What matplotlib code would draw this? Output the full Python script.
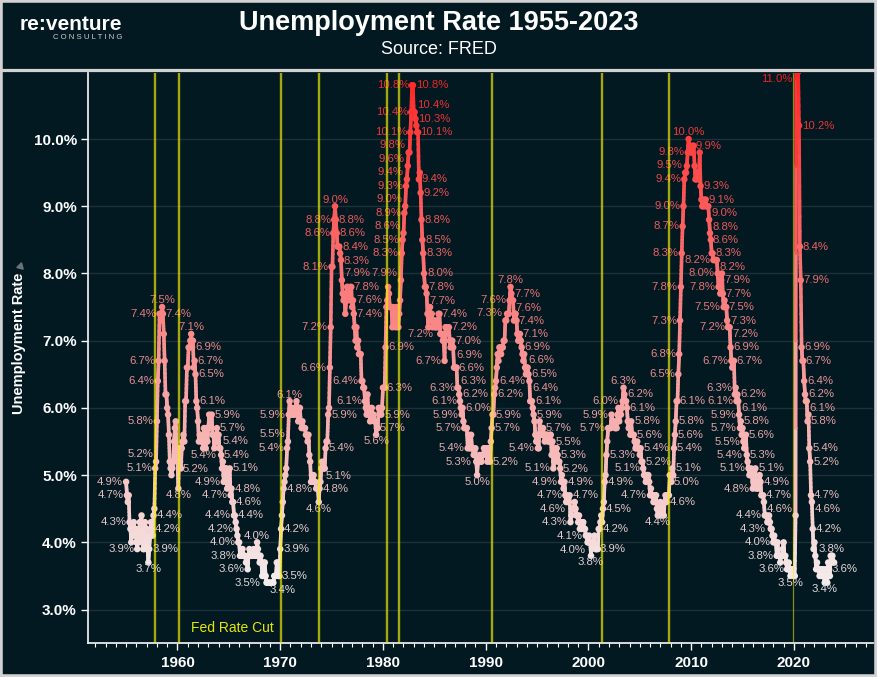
import numpy as np
import pandas as pd
import matplotlib
matplotlib.use('Agg')
import matplotlib.pyplot as plt
from matplotlib.collections import LineCollection
from matplotlib.colors import LinearSegmentedColormap, Normalize
from matplotlib.ticker import MultipleLocator, FuncFormatter
from matplotlib.patches import Rectangle
from matplotlib.lines import Line2D

# monthly unemployment rate (%), Jan..Dec, one row per year
rate_1950s = [
    4.9, 4.7, 4.6, 4.7, 4.3, 4.2, 4.0, 4.2, 4.1, 4.3, 4.2, 4.2,   # 1955
    4.0, 3.9, 4.2, 4.0, 4.3, 4.3, 4.4, 4.1, 3.9, 3.9, 4.3, 4.2,   # 1956
    4.2, 3.9, 3.7, 3.9, 4.1, 4.3, 4.2, 4.1, 4.4, 4.5, 5.1, 5.2,   # 1957
    5.8, 6.4, 6.7, 7.4, 7.4, 7.3, 7.5, 7.4, 7.1, 6.7, 6.2, 6.2,   # 1958
    6.0, 5.9, 5.6, 5.2, 5.1, 5.0, 5.1, 5.2, 5.5, 5.7, 5.8, 5.3,   # 1959
]
rate_1960s = [
    5.2, 4.8, 5.4, 5.2, 5.1, 5.4, 5.5, 5.6, 5.5, 6.1, 6.1, 6.6,
    6.6, 6.9, 6.9, 7.0, 7.1, 6.9, 7.0, 6.6, 6.7, 6.5, 6.1, 6.0,
    5.8, 5.5, 5.6, 5.6, 5.5, 5.5, 5.4, 5.7, 5.6, 5.4, 5.7, 5.5,
    5.7, 5.9, 5.7, 5.7, 5.9, 5.6, 5.6, 5.4, 5.5, 5.5, 5.7, 5.5,
    5.6, 5.4, 5.4, 5.3, 5.1, 5.2, 4.9, 5.0, 5.1, 5.1, 4.8, 5.0,
    4.9, 5.1, 4.7, 4.8, 4.6, 4.6, 4.4, 4.4, 4.3, 4.2, 4.1, 4.0,
    4.0, 3.8, 3.8, 3.8, 3.9, 3.8, 3.8, 3.8, 3.7, 3.7, 3.6, 3.8,
    3.9, 3.8, 3.8, 3.8, 3.8, 3.9, 3.8, 3.8, 3.8, 4.0, 3.9, 3.8,
    3.7, 3.8, 3.7, 3.5, 3.5, 3.7, 3.7, 3.5, 3.4, 3.4, 3.4, 3.4,
    3.4, 3.4, 3.4, 3.4, 3.4, 3.5, 3.5, 3.5, 3.7, 3.7, 3.5, 3.5,
]
rate_1970s = [
    3.9, 4.2, 4.4, 4.6, 4.8, 4.9, 5.0, 5.1, 5.4, 5.5, 5.9, 6.1,
    5.9, 5.9, 6.0, 5.9, 5.9, 5.9, 6.0, 6.1, 6.0, 5.8, 6.0, 6.0,
    5.8, 5.7, 5.8, 5.7, 5.7, 5.7, 5.6, 5.6, 5.5, 5.6, 5.3, 5.2,
    4.9, 5.0, 4.9, 5.0, 4.9, 4.9, 4.8, 4.8, 4.8, 4.6, 4.8, 4.9,
    5.1, 5.2, 5.1, 5.1, 5.1, 5.4, 5.5, 5.5, 5.9, 6.0, 6.6, 7.2,
    8.1, 8.1, 8.6, 8.8, 9.0, 8.8, 8.6, 8.4, 8.4, 8.4, 8.3, 8.2,
    7.9, 7.7, 7.6, 7.7, 7.4, 7.6, 7.8, 7.8, 7.6, 7.7, 7.8, 7.8,
    7.5, 7.6, 7.4, 7.2, 7.0, 7.2, 6.9, 7.0, 6.8, 6.8, 6.8, 6.4,
    6.4, 6.3, 6.3, 6.1, 6.0, 5.9, 6.2, 5.9, 6.0, 5.8, 5.9, 6.0,
    5.9, 5.9, 5.8, 5.8, 5.6, 5.7, 5.7, 6.0, 5.9, 6.0, 5.9, 6.0,
]
rate_1980s = [
    6.3, 6.3, 6.3, 6.9, 7.5, 7.6, 7.8, 7.7, 7.5, 7.5, 7.5, 7.2,
    7.5, 7.4, 7.4, 7.2, 7.5, 7.5, 7.2, 7.4, 7.6, 7.9, 8.3, 8.5,
    8.6, 8.9, 9.0, 9.3, 9.4, 9.6, 9.8, 9.8, 10.1, 10.4, 10.8, 10.8,
    10.4, 10.4, 10.3, 10.2, 10.1, 10.1, 9.4, 9.5, 9.2, 8.8, 8.5, 8.3,
    8.0, 7.8, 7.8, 7.7, 7.4, 7.2, 7.5, 7.5, 7.3, 7.4, 7.2, 7.3,
    7.3, 7.2, 7.2, 7.3, 7.2, 7.4, 7.4, 7.1, 7.1, 7.1, 7.0, 7.0,
    6.7, 7.2, 7.2, 7.1, 7.2, 7.2, 7.0, 6.9, 7.0, 7.0, 6.9, 6.6,
    6.6, 6.6, 6.6, 6.3, 6.3, 6.2, 6.1, 6.0, 5.9, 6.0, 5.8, 5.7,
    5.7, 5.7, 5.7, 5.4, 5.6, 5.4, 5.4, 5.6, 5.4, 5.4, 5.3, 5.3,
    5.4, 5.2, 5.0, 5.2, 5.2, 5.3, 5.2, 5.2, 5.3, 5.3, 5.4, 5.4,
]
rate_1990s = [
    5.4, 5.3, 5.2, 5.4, 5.4, 5.2, 5.5, 5.7, 5.9, 5.9, 6.2, 6.3,
    6.4, 6.6, 6.8, 6.7, 6.9, 6.9, 6.8, 6.9, 6.9, 7.0, 7.0, 7.3,
    7.3, 7.4, 7.4, 7.4, 7.6, 7.8, 7.7, 7.6, 7.6, 7.3, 7.4, 7.4,
    7.3, 7.1, 7.0, 7.1, 7.1, 7.0, 6.9, 6.8, 6.7, 6.8, 6.6, 6.5,
    6.6, 6.6, 6.5, 6.4, 6.1, 6.1, 6.1, 6.0, 5.9, 5.8, 5.6, 5.5,
    5.6, 5.4, 5.4, 5.8, 5.6, 5.6, 5.7, 5.7, 5.6, 5.5, 5.6, 5.6,
    5.6, 5.5, 5.5, 5.6, 5.6, 5.3, 5.5, 5.1, 5.2, 5.2, 5.4, 5.4,
    5.3, 5.2, 5.2, 5.1, 4.9, 5.0, 4.9, 4.8, 4.9, 4.7, 4.6, 4.7,
    4.6, 4.6, 4.7, 4.3, 4.4, 4.5, 4.5, 4.5, 4.6, 4.5, 4.4, 4.4,
    4.3, 4.4, 4.2, 4.3, 4.2, 4.3, 4.3, 4.2, 4.2, 4.1, 4.1, 4.0,
]
rate_2000s = [
    4.0, 4.1, 4.0, 3.8, 4.0, 4.0, 4.0, 4.1, 3.9, 3.9, 3.9, 3.9,
    4.2, 4.2, 4.3, 4.4, 4.3, 4.5, 4.6, 4.9, 5.0, 5.3, 5.5, 5.7,
    5.7, 5.7, 5.7, 5.9, 5.8, 5.8, 5.8, 5.7, 5.7, 5.7, 5.9, 6.0,
    5.8, 5.9, 5.9, 6.0, 6.1, 6.3, 6.2, 6.1, 6.1, 6.0, 5.8, 5.7,
    5.7, 5.6, 5.8, 5.6, 5.6, 5.6, 5.5, 5.4, 5.4, 5.5, 5.4, 5.4,
    5.3, 5.4, 5.2, 5.2, 5.1, 5.0, 5.0, 4.9, 5.0, 5.0, 5.0, 4.9,
    4.7, 4.8, 4.7, 4.7, 4.6, 4.6, 4.7, 4.7, 4.5, 4.4, 4.5, 4.4,
    4.6, 4.5, 4.4, 4.5, 4.4, 4.6, 4.7, 4.6, 4.7, 4.7, 4.7, 5.0,
    5.0, 4.9, 5.1, 5.0, 5.4, 5.6, 5.8, 6.1, 6.1, 6.5, 6.8, 7.3,
    7.8, 8.3, 8.7, 9.0, 9.4, 9.5, 9.5, 9.6, 9.8, 10.0, 9.9, 9.9,
]
rate_2010s = [
    9.8, 9.8, 9.9, 9.9, 9.6, 9.4, 9.4, 9.5, 9.5, 9.4, 9.8, 9.3,
    9.1, 9.0, 9.0, 9.1, 9.0, 9.1, 9.0, 9.0, 9.0, 8.8, 8.6, 8.5,
    8.3, 8.3, 8.2, 8.2, 8.2, 8.2, 8.2, 8.0, 7.8, 7.8, 7.7, 7.9,
    8.0, 7.7, 7.5, 7.6, 7.5, 7.5, 7.3, 7.2, 7.2, 7.2, 6.9, 6.7,
    6.6, 6.7, 6.7, 6.2, 6.3, 6.1, 6.2, 6.1, 5.9, 5.7, 5.8, 5.6,
    5.7, 5.5, 5.4, 5.4, 5.6, 5.3, 5.2, 5.1, 5.0, 5.0, 5.1, 5.0,
    4.8, 4.9, 5.0, 5.1, 4.8, 4.9, 4.8, 4.9, 5.0, 4.9, 4.7, 4.7,
    4.7, 4.6, 4.4, 4.4, 4.4, 4.3, 4.3, 4.4, 4.3, 4.2, 4.2, 4.1,
    4.0, 4.1, 4.0, 4.0, 3.8, 4.0, 3.8, 3.8, 3.7, 3.8, 3.8, 3.9,
    4.0, 3.8, 3.8, 3.7, 3.6, 3.6, 3.7, 3.6, 3.5, 3.6, 3.6, 3.6,
]
rate_2020s = [
    3.5, 3.5, 4.4, 14.8, 13.2, 11.0, 10.2, 8.4, 7.9, 6.9, 6.7, 6.7,
    6.4, 6.2, 6.1, 6.1, 5.8, 5.9, 5.4, 5.2, 4.7, 4.6, 4.2, 3.9,
    4.0, 3.8, 3.6, 3.7, 3.6, 3.6, 3.5, 3.6, 3.5, 3.6, 3.6, 3.5,
    3.4, 3.6, 3.5, 3.4, 3.7, 3.6, 3.5, 3.8, 3.8, 3.8, 3.7, 3.7,
]

# fed rate cut markers (decimal year)
fed_cuts = [1957.78, 1960.15, 1970.07, 1973.77, 1980.39, 1981.53, 1990.58, 2001.34, 2007.8]
recent_cut = 2019.94

rates = np.array(rate_1950s + rate_1960s + rate_1970s + rate_1980s
                 + rate_1990s + rate_2000s + rate_2010s + rate_2020s)
dates = pd.date_range('1955-01-01', periods=len(rates), freq='MS')
years = (dates.year + (dates.month - 1) / 12).to_numpy(dtype=float)

plt.rcParams['font.family'] = ['Liberation Sans', 'DejaVu Sans']
plt.rcParams['font.weight'] = 'bold'

BG = '#021922'
fig = plt.figure(figsize=(8.77, 6.77), dpi=100, facecolor=BG)
ax = fig.add_axes([88 / 877, 1 - 642.5 / 677, (873 - 88) / 877, (642.5 - 72.5) / 677])
ax.set_facecolor(BG)
ax.set_xlim(1951.29, 2027.7)
ax.set_ylim(2.51, 10.99)

norm = Normalize(3.4, 11.0)
cmap = LinearSegmentedColormap.from_list('unrate', ['#f4ecec', '#ff2525'])

# line coloured along its length: each month-to-month step is split into
# short pieces so long jumps get a smooth colour ramp
xy = np.column_stack([years, rates])
m = 8
f = np.linspace(0, 1, m + 1)
a, b = xy[:-1], xy[1:]
starts = a[:, None, :] + (b - a)[:, None, :] * f[None, :-1, None]
ends = a[:, None, :] + (b - a)[:, None, :] * f[None, 1:, None]
segs = np.stack([starts.reshape(-1, 2), ends.reshape(-1, 2)], axis=1)
mid_vals = (segs[:, 0, 1] + segs[:, 1, 1]) / 2
lc = LineCollection(segs, colors=cmap(norm(mid_vals)), linewidths=2.6,
                    capstyle='round', joinstyle='round', zorder=3)
ax.add_collection(lc)
ax.scatter(years, rates, s=22, c=cmap(norm(rates)), linewidths=0, zorder=4)

for x in fed_cuts:
    ax.axvline(x, color='#f6ee05', alpha=0.67, lw=1.7, zorder=6)
ax.axvline(recent_cut, color='#f6ee05', alpha=0.55, lw=0.9, zorder=6)

ax.text(1961.3, 2.725, 'Fed Rate Cut', color='#e6e600', fontsize=10,
        fontweight='normal', va='center', ha='left')

# axes styling
for s in ['top', 'right']:
    ax.spines[s].set_visible(False)
for s in ['left', 'bottom']:
    ax.spines[s].set_color('#e8e8e8')
    ax.spines[s].set_linewidth(1.3)
ax.set_axisbelow(True)
ax.yaxis.grid(True, color='#1d3139', lw=1.0)
ax.yaxis.set_major_locator(MultipleLocator(1))
ax.yaxis.set_major_formatter(FuncFormatter(lambda v, _: f'{v:.1f}%'))
ax.xaxis.set_major_locator(MultipleLocator(10))
ax.xaxis.set_minor_locator(MultipleLocator(1))
ax.xaxis.set_major_formatter(FuncFormatter(lambda v, _: f'{v:.0f}'))
ax.tick_params(axis='y', length=5, width=1, colors='white', labelsize=11, pad=3)
ax.tick_params(axis='x', which='major', length=5, width=1, colors='white', labelsize=11, pad=5)
ax.tick_params(axis='x', which='minor', length=3, width=0.8, colors='white')

# header
fig.text(0.5, 1 - 22.5 / 677, 'Unemployment Rate 1955-2023', ha='center', va='center',
         fontsize=19.5, color='white')
fig.text(0.5, 1 - 49.5 / 677, 'Source: FRED', ha='center', va='center',
         fontsize=13, color='white', fontweight='normal')
fig.text(20 / 877, 1 - 24 / 677, 're:venture', ha='left', va='center', fontsize=15, color='white')
fig.text(122 / 877, 1 - 37.5 / 677, 'C O N S U L T I N G', ha='right', va='center', fontsize=5.6,
         color='#d0d0d0', fontweight='normal')
fig.text(19.5 / 877, 1 - 343 / 677, 'Unemployment Rate', ha='center', va='center',
         rotation=90, fontsize=10.5, color='white')
fig.add_artist(Line2D([20 / 877], [1 - 266 / 677], transform=fig.transFigure, marker=(3, 0, 225),
                      markersize=5.5, color='#6b7378', lw=0))

fig.add_artist(Rectangle((0, 0), 1, 1, transform=fig.transFigure, fill=False,
                         edgecolor='#d2d2d2', lw=4))
fig.add_artist(Line2D([0, 1], [1 - 70.3 / 677] * 2, transform=fig.transFigure,
                      color='#d2d2d2', lw=2.3))

# ---- data labels: greedy placement avoiding other labels and the line ----
fig.canvas.draw()
renderer = fig.canvas.get_renderer()
box = ax.get_window_extent(renderer)
pts = ax.transData.transform(xy)

parts = [pts[:1]]
for p0, p1 in zip(pts[:-1], pts[1:]):
    k = max(1, int(np.hypot(*(p1 - p0)) / 2))
    t = np.linspace(0, 1, k + 1)[1:, None]
    parts.append(p0 + (p1 - p0) * t)
line_px = np.vstack(parts)

label_kw = dict(fontsize=8.2, fontweight='normal')
sizes = {}
for s in set(f'{v:.1f}%' for v in rates):
    t = ax.text(0, 0, s, **label_kw)
    bb = t.get_window_extent(renderer)
    sizes[s] = (bb.width, bb.height * 0.72)
    t.remove()

GAP = 3
ORDER = {
    'peak': [(0, 1), (-1, 0), (1, 0)],
    'trough': [(0, -1), (1, 0), (-1, 0)],
    'rise': [(-1, 0), (-1, -1), (-1, 1), (1, 0)],
    'fall': [(1, 0), (1, -1), (1, 1), (-1, 0)],
    'flat_hi': [(0, 1), (1, 0), (-1, 0), (0, -1)],
    'flat_lo': [(0, -1), (1, 0), (-1, 0), (0, 1)],
}
placed = []


def free(x0, y0, x1, y1):
    if x0 < box.x0 + 2 or x1 > box.x1 - 2 or y0 < box.y0 + 2 or y1 > box.y1 - 1:
        return False
    for q in placed:
        if x0 < q[2] + 0.5 and x1 > q[0] - 0.5 and y0 < q[3] + 0.5 and y1 > q[1] - 0.5:
            return False
    r = 1.6
    hit = ((line_px[:, 0] > x0 - r) & (line_px[:, 0] < x1 + r)
           & (line_px[:, 1] > y0 - r) & (line_px[:, 1] < y1 + r))
    return not hit.any()


n = len(rates)
win = 9
is_max = np.array([rates[i] == rates[max(0, i - win):i + win + 1].max() for i in range(n)])
is_min = np.array([rates[i] == rates[max(0, i - win):i + win + 1].min() for i in range(n)])


def kind(i):
    v = rates[i]
    p = rates[i - 1] if i > 0 else v
    q = rates[i + 1] if i < n - 1 else v
    if i == 0:
        return 'rise'
    if v > p and v > q:
        return 'peak'
    if v < p and v < q:
        return 'trough'
    if (p < v <= q) or (p <= v < q):
        return 'rise'
    if (p > v >= q) or (p >= v > q):
        return 'fall'
    return 'flat_lo' if is_min[i] else 'flat_hi'


order = [i for i in range(n) if is_max[i] or is_min[i]] + \
        [i for i in range(n) if not (is_max[i] or is_min[i])]

for i in order:
    v = rates[i]
    if v > 11.0:
        continue
    s = f'{v:.1f}%'
    w, h = sizes[s]
    px, py = pts[i]
    gap = GAP
    clamped = py > box.y1 - h / 2 - 2
    if clamped:
        py = box.y1 - h / 2 - 3
        gap = 6
    cands = [(-1, 0), (1, 0)] if clamped else ORDER[kind(i)]
    for hx, vy in cands:
        if hx == 0:
            x0 = px - w / 2
            y0 = py + gap if vy > 0 else py - gap - h
        else:
            x0 = px + gap if hx > 0 else px - gap - w
            y0 = py - h / 2 + vy * h
        if free(x0, y0, x0 + w, y0 + h):
            placed.append((x0, y0, x0 + w, y0 + h))
            cx, cy = ax.transData.inverted().transform((x0 + w / 2, y0 + h / 2))
            rgb = np.array(cmap(norm(v))[:3]) * 0.93
            ax.text(cx, cy, s, ha='center', va='center', color=rgb, zorder=5, **label_kw)
            break

fig.savefig('out.png', dpi=100, facecolor=BG)
